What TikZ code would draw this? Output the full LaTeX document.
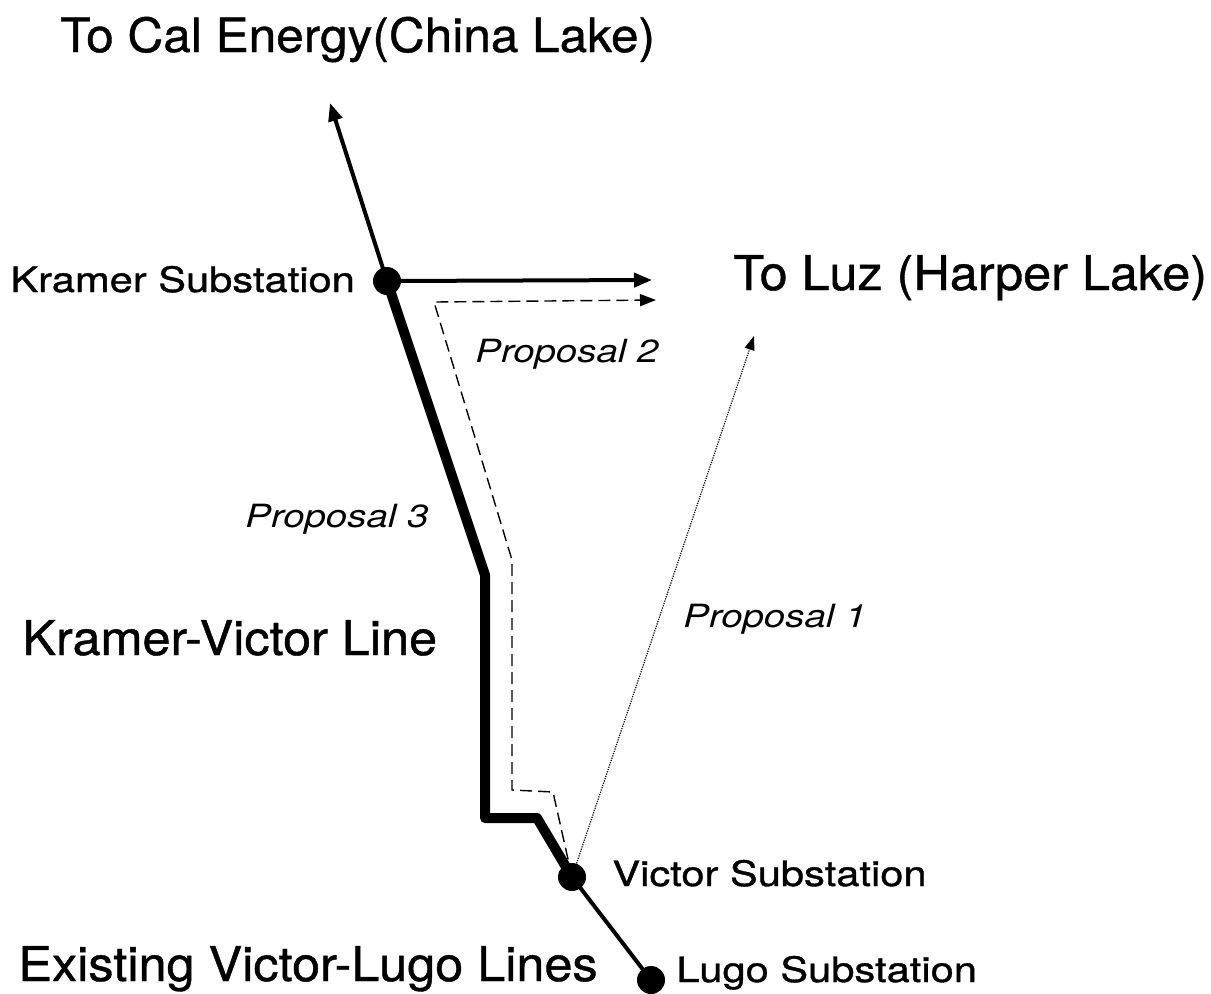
\documentclass[tikz,border=0pt]{standalone}
\usepackage{fontspec}
\setmainfont{TeX Gyre Heros}
\newfontfamily\bigfont[FakeStretch=1.05,FakeBold=0.8]{TeX Gyre Heros}
\newfontfamily\widefont[FakeStretch=1.19,FakeBold=1]{TeX Gyre Heros}
\newfontfamily\propfont[FakeStretch=1.2]{TeX Gyre Heros}
\usetikzlibrary{arrows.meta,backgrounds}

\begin{document}
\begin{tikzpicture}[x=.5pt,y=-.5pt,
  sub/.style={circle,fill,inner sep=0pt,minimum size=14pt},
  big/.style={anchor=base west,inner sep=0pt,font=\bigfont\fontsize{24}{28}\selectfont},
  mid/.style={anchor=base west,inner sep=0pt,font=\widefont\fontsize{17.5}{20}\selectfont},
  prop/.style={anchor=base west,inner sep=0pt,font=\propfont\itshape\fontsize{16}{19}\selectfont},
  tip/.style={-{Triangle[length=9pt,width=7pt]}}]
\useasboundingbox (0,0) rectangle (1211,993);

\node[sub] (kramer) at (387,281) {};
\node[sub] (victor) at (572,877) {};
\node[sub] (lugo) at (651,980) {};

\coordinate (china) at (330,103);
\coordinate (luz) at (652,280);
\coordinate (luzb) at (656,300);
\coordinate (harper) at (754,336);
\coordinate (kv1) at (485,575);
\coordinate (kv2) at (485,818);
\coordinate (kv3) at (537,818);
\coordinate (pb1) at (434,302);
\coordinate (pb2) at (512,560);
\coordinate (pb3) at (512,790);
\coordinate (pb4) at (553,792);

\begin{scope}[on background layer]
\draw[line width=2pt,tip](kramer.center)--(china);
\draw[line width=2pt,tip](kramer.center)--(luz);
\draw[line width=5pt,line join=round](kramer.center)--(kv1)--(kv2)--(kv3)--(victor.center);
\draw[line width=2pt](victor.center)--(lugo.center);
\draw[line width=.7pt,dash pattern=on 6pt off 3pt,-{Triangle[length=8pt,width=6pt]}]
  (victor.center)--(pb4)--(pb3)--(pb2)--(pb1)--(luzb);
\draw[line width=.6pt,dash pattern=on .6pt off .6pt,-{Triangle[length=7pt,width=5pt]}]
  (victor.center)--(harper);
\end{scope}

\node[big,font=\bigfont\fontsize{23.6}{28}\selectfont] (calenergy) at (60,52) {To Cal Energy(China Lake)};
\node[big] (toluz) at (733,290) {To Luz (Harper Lake)};
\node[big] (kvline) at (22,655) {Kramer-Victor Line};
\node[big] (vlines) at (18,981) {Existing Victor-Lugo Lines};
\node[mid] (kramerlab) at (10,292) {Kramer Substation};
\node[mid] (victorlab) at (612,886) {Victor Substation};
\node[mid] (lugolab) at (676,982) {Lugo Substation};
\node[prop] (propone) at (683,627) {Proposal 1};
\node[prop] (proptwo) at (475,362) {Proposal 2};
\node[prop] (propthree) at (245,527) {Proposal 3};

\end{tikzpicture}
\end{document}
